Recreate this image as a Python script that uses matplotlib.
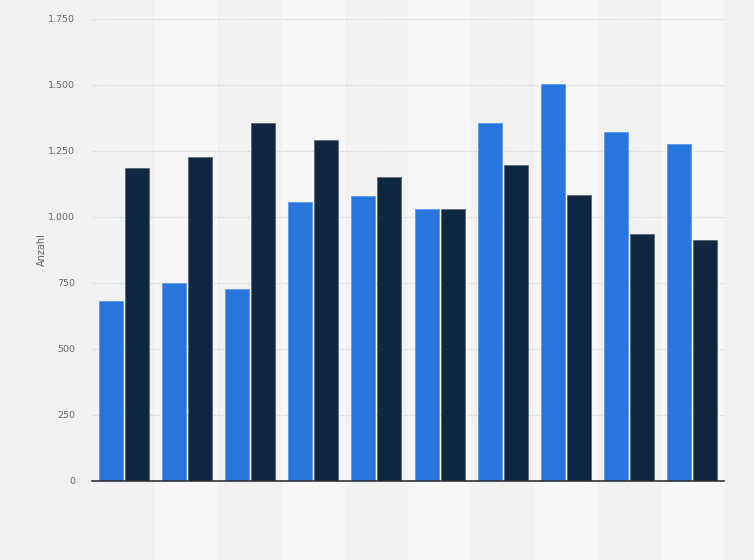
import matplotlib
matplotlib.use("Agg")
import matplotlib.pyplot as plt
import numpy as np
from matplotlib.ticker import FuncFormatter

groups = list(range(10))
series_a = [682, 750, 727, 1056, 1079, 1031, 1356, 1504, 1323, 1277]
series_b = [1186, 1228, 1356, 1290, 1152, 1031, 1197, 1084, 937, 913]
yticks = [0, 250, 500, 750, 1000, 1250, 1500, 1750]

fig = plt.figure(figsize=(7.54, 5.60), dpi=100)
fig.patch.set_facecolor("#f2f2f2")
ax = fig.add_axes([92/754, 1 - 481/560, (724-92)/754, (481-19)/560])
ax.set_facecolor("#f2f2f2")

x = np.arange(len(groups))
h_ax = 481 - 19
ymin_ext = -(560 - 481) / h_ax
ymax_ext = 1 + 19 / h_ax
for i in x:
    if i % 2 == 1:
        ax.axvspan(i - 0.5, i + 0.5, ymin=ymin_ext, ymax=ymax_ext, color="#f7f7f7", zorder=0, clip_on=False, lw=0)

for yv in yticks[1:]:
    ax.axhline(yv, color="#d0d0d0", lw=0.8, ls=(0, (1, 1.5)), zorder=1)

w = 0.38
ax.bar(x - 0.205, series_a, width=w, color="#2876dd", edgecolor="#5b9aeb", lw=0.6, zorder=3)
ax.bar(x + 0.205, series_b, width=w, color="#0f2740", edgecolor="#5a6878", lw=0.6, zorder=3)

ax.set_xlim(-0.5, len(groups) - 0.5)
ax.set_ylim(0, 1750)
ax.set_yticks(yticks)
ax.yaxis.set_major_formatter(FuncFormatter(lambda v, p: f"{int(v):,}".replace(",", ".")))
ax.set_xticks([])
ax.tick_params(axis="y", length=0, pad=12, labelsize=6.8, labelcolor="#666666")
for s in ["top", "right", "left"]:
    ax.spines[s].set_visible(False)
ax.spines["bottom"].set_color("#333333")
ax.spines["bottom"].set_linewidth(1.2)
ax.spines["bottom"].set_zorder(4)
ax.set_ylabel("Anzahl", fontsize=7, color="#666666", labelpad=1)

fig.savefig("out.png", dpi=100, facecolor=fig.get_facecolor())
